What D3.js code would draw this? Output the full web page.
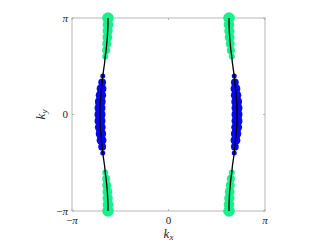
<!DOCTYPE html>
<html>
<head>
<meta charset="utf-8">
<script src="https://cdn.jsdelivr.net/npm/d3@7"></script>
<style>
  html, body { margin: 0; padding: 0; background: #fff; }
  svg { display: block; }
  .tick-label { font-family: "Liberation Serif", "DejaVu Serif", serif; font-size: 11px; fill: #262626; }
  .axis-label { font-family: "Liberation Serif", "DejaVu Serif", serif; font-size: 13px; fill: #262626; }
</style>
</head>
<body>
<div id="chart"></div>
<script>
// k-grid along ky (rad), from -pi to pi
const kyValues = [-3.1416, -2.9322, -2.7227, -2.5133, -2.3038, -2.0944, -1.8850, -1.6755,
  -1.4661, -1.2566, -1.0472, -0.8378, -0.6283, -0.4189, -0.2094, 0,
  0.2094, 0.4189, 0.6283, 0.8378, 1.0472, 1.2566, 1.4661, 1.6755,
  1.8850, 2.0944, 2.3038, 2.5133, 2.7227, 2.9322, 3.1416];

// |kx| of the Fermi surface at each ky (both branches, +/-)
const kxFermi = [1.97, 1.97, 1.98, 1.99, 2.01, 2.03, 2.06, 2.08,
  2.11, 2.14, 2.16, 2.18, 2.20, 2.22, 2.23, 2.23,
  2.23, 2.22, 2.20, 2.18, 2.16, 2.14, 2.11, 2.08,
  2.06, 2.03, 2.01, 1.99, 1.98, 1.97, 1.97];

// orbital weight (marker size) and dominant orbital at each point
const weights = [5.8, 5.3, 5.1, 4.9, 4.5, 4.0, 3.0, 0,
  0, 2.5, 3.9, 4.9, 5.2, 5.4, 5.5, 5.5,
  5.5, 5.4, 5.2, 4.9, 3.9, 2.5, 0, 0,
  3.0, 4.0, 4.5, 4.9, 5.1, 5.3, 5.8];
const orbital = ["g", "g", "g", "g", "g", "g", "g", "g",
  "b", "b", "b", "b", "b", "b", "b", "b",
  "b", "b", "b", "b", "b", "b", "b", "g",
  "g", "g", "g", "g", "g", "g", "g"];

const branches = [-1, 1];
const tickValues = [-Math.PI, 0, Math.PI];
const tickSigns = ["\u2212", "", ""];
const tickSymbols = ["\u03c0", "0", "\u03c0"];

const orbitalColor = { g: "#18f08c", b: "#0808e8" };

const width = 327, height = 245;
const plot = { left: 72, top: 18, right: 265, bottom: 211 };

const svg = d3.select("#chart").append("svg")
  .attr("width", width)
  .attr("height", height);

const x = d3.scaleLinear().domain([-Math.PI, Math.PI]).range([plot.left, plot.right]);
const y = d3.scaleLinear().domain([-Math.PI, Math.PI]).range([plot.bottom, plot.top]);

// axes box
svg.append("rect")
  .attr("x", plot.left).attr("y", plot.top)
  .attr("width", plot.right - plot.left)
  .attr("height", plot.bottom - plot.top)
  .attr("fill", "none")
  .attr("stroke", "#a6a6a6")
  .attr("stroke-width", 0.8);

// short inward ticks
tickValues.forEach(v => {
  svg.append("line").attr("x1", x(v)).attr("x2", x(v))
    .attr("y1", plot.bottom).attr("y2", plot.bottom - 2)
    .attr("stroke", "#a6a6a6").attr("stroke-width", 0.8);
  svg.append("line").attr("x1", x(v)).attr("x2", x(v))
    .attr("y1", plot.top).attr("y2", plot.top + 2)
    .attr("stroke", "#a6a6a6").attr("stroke-width", 0.8);
  svg.append("line").attr("y1", y(v)).attr("y2", y(v))
    .attr("x1", plot.left).attr("x2", plot.left + 2)
    .attr("stroke", "#a6a6a6").attr("stroke-width", 0.8);
  svg.append("line").attr("y1", y(v)).attr("y2", y(v))
    .attr("x1", plot.right).attr("x2", plot.right - 2)
    .attr("stroke", "#a6a6a6").attr("stroke-width", 0.8);
});

// points of the scatter: both branches
const points = [];
branches.forEach(s => {
  kyValues.forEach((ky, i) => {
    if (weights[i] > 0) points.push({ kx: s * kxFermi[i], ky, r: weights[i], o: orbital[i] });
  });
});

svg.append("g").selectAll("circle")
  .data(points)
  .join("circle")
  .attr("cx", d => x(d.kx))
  .attr("cy", d => y(d.ky))
  .attr("r", d => d.r)
  .attr("fill", d => orbitalColor[d.o]);

// Fermi surface line
const line = d3.line()
  .x(d => x(d[0]))
  .y(d => y(d[1]));

branches.forEach(s => {
  svg.append("path")
    .datum(kyValues.map((ky, i) => [s * kxFermi[i], ky]))
    .attr("d", line)
    .attr("fill", "none")
    .attr("stroke", "#000")
    .attr("stroke-width", 1.3);
});

// tick labels (math-style italic pi)
function tickText(sel, i) {
  if (tickSigns[i]) sel.append("tspan").text(tickSigns[i]);
  sel.append("tspan")
    .attr("font-style", tickSymbols[i] === "0" ? "normal" : "italic")
    .text(tickSymbols[i]);
}

tickValues.forEach((v, i) => {
  tickText(svg.append("text").attr("class", "tick-label")
    .attr("x", x(v)).attr("y", plot.bottom + 13)
    .attr("text-anchor", "middle"), i);
  tickText(svg.append("text").attr("class", "tick-label")
    .attr("x", plot.left - 4).attr("y", y(v) + 3.5)
    .attr("text-anchor", "end"), i);
});

// axis labels
const xl = svg.append("text").attr("class", "axis-label")
  .attr("x", (plot.left + plot.right) / 2).attr("y", plot.bottom + 27)
  .attr("text-anchor", "middle");
xl.append("tspan").attr("font-style", "italic").text("k");
xl.append("tspan").attr("font-style", "italic").attr("font-size", "9px").attr("dy", 2).text("x");

const yl = svg.append("text").attr("class", "axis-label")
  .attr("transform", `translate(${plot.left - 27},${(plot.top + plot.bottom) / 2}) rotate(-90)`)
  .attr("text-anchor", "middle");
yl.append("tspan").attr("font-style", "italic").text("k");
yl.append("tspan").attr("font-style", "italic").attr("font-size", "9px").attr("dy", 2).text("y");
</script>
</body>
</html>
